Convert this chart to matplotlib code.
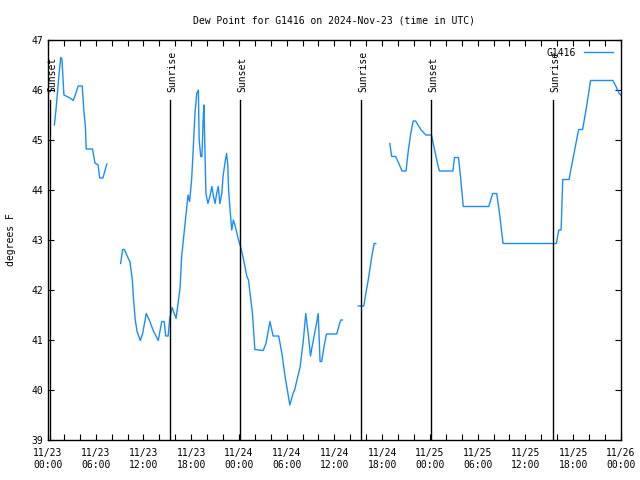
import numpy as np
import matplotlib
matplotlib.use("Agg")
import matplotlib.pyplot as plt
from matplotlib.ticker import MultipleLocator

# hours since 2024-11-23 00:00 UTC, None marks a gap in the record
hours = [
    0.8, 1.0, 1.4, 1.6, 1.75, 1.9, 2.0, 2.76, 3.17, 3.43, 3.8, 4.3, 4.5, 4.7,
    4.8, 5.6, 5.9, 6.3, 6.5, 6.9, 7.4,
    None,
    9.13, 9.38, 9.6, 10.1, 10.3, 10.6, 10.76, 10.97, 11.2, 11.6, 11.9, 12.35,
    12.73, 13.2, 13.86, 14.3, 14.6, 14.8, 15.1, 15.3, 15.6, 16.1, 16.4, 16.6,
    16.8, 17.1, 17.4, 17.6, 17.8, 18.05, 18.25, 18.47, 18.7, 18.9, 19.0, 19.2,
    19.35, 19.5, 19.6, 19.85, 20.1, 20.35, 20.6, 20.8, 21.0, 21.2, 21.4, 21.6,
    21.85, 22.0, 22.3, 22.45, 22.6, 22.7, 22.95, 23.1, 23.3, 23.5, 23.9, 24.2,
    24.6, 25.0, 25.2, 25.5, 25.7, 25.9, 26.0, 27.05, 27.4, 27.9, 28.3, 29.0,
    29.4, 29.8, 30.4, 30.8, 31.0, 31.7, 32.1, 32.4, 32.7, 33.0, 33.2, 33.75,
    33.96, 34.2, 34.4, 34.7, 35.0, 36.3, 36.6, 36.8, 37.0,
    None,
    39.0, 39.7, 39.95, 40.25, 40.7, 41.0, 41.2,
    None,
    42.96, 43.2, 43.7, 44.1, 44.5, 45.0, 45.3, 45.6, 45.9, 46.2, 46.9, 47.5,
    48.2, 48.6, 48.9, 49.2, 50.9, 51.1, 51.6, 51.85, 52.2, 55.4, 55.9, 56.4,
    56.7, 57.0, 57.2, 63.9, 64.2, 64.5, 64.7, 65.5, 65.8, 66.2, 66.7, 67.2,
    67.7, 68.2, 71.0, 71.4, 71.8, 72.0,
]
dewpoint = [
    45.3, 45.6, 46.34, 46.65, 46.62, 46.2, 45.9, 45.84, 45.79, 45.9, 46.08,
    46.08, 45.6, 45.27, 44.82, 44.82, 44.54, 44.5, 44.24, 44.24, 44.52,
    None,
    42.53, 42.81, 42.81, 42.63, 42.57, 42.2, 41.8, 41.4, 41.17, 40.99, 41.13,
    41.53, 41.4, 41.2, 40.99, 41.37, 41.37, 41.08, 41.08, 41.43, 41.65, 41.43,
    41.8, 42.04, 42.67, 43.13, 43.6, 43.9, 43.77, 44.2, 44.8, 45.53, 45.93,
    46.0, 45.0, 44.67, 44.67, 45.4, 45.7, 43.93, 43.73, 43.87, 44.07, 43.87,
    43.73, 43.93, 44.07, 43.73, 43.93, 44.27, 44.6, 44.73, 44.5, 44.0, 43.47,
    43.2, 43.4, 43.3, 43.03, 42.87, 42.6, 42.27, 42.2, 41.8, 41.53, 41.07,
    40.81, 40.79, 40.93, 41.37, 41.08, 41.08, 40.73, 40.27, 39.7, 39.93, 40.0,
    40.47, 41.0, 41.53, 41.13, 40.68, 40.87, 41.33, 41.53, 40.57, 40.57,
    40.87, 41.12, 41.12, 41.3, 41.4, 41.4,
    None,
    41.68, 41.68, 41.93, 42.2, 42.67, 42.93, 42.93,
    None,
    44.93, 44.67, 44.67, 44.53, 44.38, 44.38, 44.8, 45.13, 45.38, 45.38,
    45.2, 45.1, 45.1, 44.8, 44.57, 44.38, 44.38, 44.65, 44.65, 44.27, 43.67,
    43.67, 43.93, 43.93, 43.6, 43.2, 42.93, 42.93, 43.2, 43.2, 44.21, 44.21,
    44.47, 44.8, 45.21, 45.21, 45.67, 46.19, 46.19, 46.07, 45.93, 45.9,
]

sun_hours = [0.3, 15.35, 24.15, 39.4, 48.2, 63.5]
sun_labels = ["Sunset", "Sunrise", "Sunset", "Sunrise", "Sunset", "Sunrise"]

tick_hours = list(range(0, 73, 6))
tick_labels = [
    "11/23\n00:00", "11/23\n06:00", "11/23\n12:00", "11/23\n18:00",
    "11/24\n00:00", "11/24\n06:00", "11/24\n12:00", "11/24\n18:00",
    "11/25\n00:00", "11/25\n06:00", "11/25\n12:00", "11/25\n18:00",
    "11/26\n00:00",
]

matplotlib.rcParams.update({
    "font.family": "DejaVu Sans Mono",
    "font.size": 7,
})

x = np.array([np.nan if h is None else h for h in hours], dtype=float)
y = np.array([np.nan if v is None else v for v in dewpoint], dtype=float)

fig = plt.figure(figsize=(6.4, 4.8), dpi=100)
ax = fig.add_axes([0.075, 0.0833, 0.895, 0.8334])

ax.plot(x, y, color="#1a8cff", linewidth=1.0, label="G1416")

for h, lab in zip(sun_hours, sun_labels):
    ax.axvline(h, ymin=0, ymax=0.85, color="black", linewidth=1.0)
    ax.text(h + 0.25, 0.87, lab, rotation=90, ha="center", va="bottom",
            transform=ax.get_xaxis_transform(), fontsize=7)

ax.set_xlim(0, 72)
ax.set_ylim(39, 47)
ax.set_xticks(tick_hours)
ax.set_xticklabels(tick_labels)
ax.xaxis.set_minor_locator(MultipleLocator(2))
ax.yaxis.set_major_locator(MultipleLocator(1))
ax.tick_params(which="both", direction="in", top=True, right=True,
               length=4, width=0.8)
ax.tick_params(axis="x", pad=6)

ax.set_ylabel("degrees F", labelpad=11)
ax.set_title("Dew Point for G1416 on 2024-Nov-23 (time in UTC)", pad=12,
             fontsize=7)

ax.legend(loc="upper right", frameon=False, markerfirst=False,
          handlelength=3.0, borderaxespad=0.4, fontsize=7)

for s in ax.spines.values():
    s.set_linewidth(1.0)

fig.savefig("out.png", dpi=100)
